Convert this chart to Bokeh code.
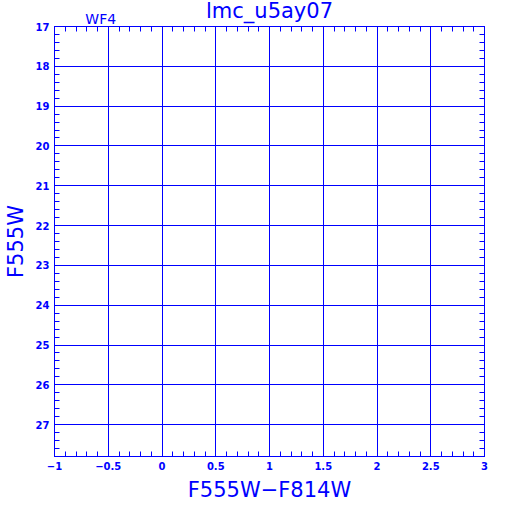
from bokeh.plotting import figure
from bokeh.models import Range1d, LinearAxis, SingleIntervalTicker, FixedTicker
from bokeh.embed import file_html
from bokeh.resources import INLINE

# Chart content
title_text = "lmc_u5ay07"
chip_text = "WF4"
chip_pos = -0.57               # x position (data) of the chip label above the frame
x_label = "F555W\u2212F814W"
y_label = "F555W"
x_limits = [-1, 3]
y_limits = [27.8, 17]          # magnitude axis, inverted
x_major_step = 0.5
y_major_step = 1
x_minor_count = 5
y_minor_count = 5

BLUE = "#0000ff"
FONT = "DejaVu Sans"

p = figure(frame_width=430, frame_height=430,
           x_range=Range1d(*x_limits), y_range=Range1d(*y_limits),
           output_backend="svg", toolbar_location=None,
           min_border_left=46, min_border_top=27,
           min_border_right=16, min_border_bottom=43,
           x_axis_location=None, y_axis_location=None,
           margin=(-5, 0, 0, 0))
p.background_fill_color = "white"
p.border_fill_color = "white"
p.outline_line_color = BLUE
p.outline_line_width = 1

def make_axis(interval, minors, show_labels, label=None):
    ax = LinearAxis(ticker=SingleIntervalTicker(interval=interval, num_minor_ticks=minors))
    ax.axis_line_color = BLUE
    ax.major_tick_line_color = BLUE
    ax.minor_tick_line_color = BLUE
    ax.major_tick_in = 5
    ax.major_tick_out = 0
    ax.minor_tick_in = 5
    ax.minor_tick_out = 0
    if show_labels:
        ax.major_label_text_color = BLUE
        ax.major_label_text_font = FONT
        ax.major_label_text_font_style = "bold"
        ax.major_label_text_font_size = "10px"
        ax.major_label_standoff = 5
    else:
        ax.major_label_text_font_size = "0px"
        ax.major_label_text_color = None
        ax.major_label_standoff = 0
    if label is not None:
        ax.axis_label = label
        ax.axis_label_text_color = BLUE
        ax.axis_label_text_font = FONT
        ax.axis_label_text_font_style = "normal"
        ax.axis_label_text_font_size = "21px"
        ax.axis_label_standoff = 5
    return ax

p.add_layout(make_axis(x_major_step, x_minor_count, True, x_label), "below")
p.add_layout(make_axis(y_major_step, y_minor_count, True, y_label), "left")
p.add_layout(make_axis(x_major_step, x_minor_count, False), "above")
p.add_layout(make_axis(y_major_step, y_minor_count, False), "right")

# top text axis: chip name as tick label, file name as axis label
txt = LinearAxis(ticker=FixedTicker(ticks=[chip_pos], minor_ticks=[]),
                 major_label_overrides={chip_pos: chip_text})
txt.axis_line_color = None
txt.major_tick_line_color = None
txt.minor_tick_line_color = None
txt.major_tick_in = 0
txt.major_tick_out = 0
txt.major_label_standoff = 0
txt.major_label_text_color = BLUE
txt.major_label_text_font = FONT
txt.major_label_text_font_size = "14px"
txt.axis_label = title_text
txt.axis_label_text_color = BLUE
txt.axis_label_text_font = FONT
txt.axis_label_text_font_style = "normal"
txt.axis_label_text_font_size = "21px"
txt.axis_label_standoff = -15
p.add_layout(txt, "above")

p.xgrid.ticker = SingleIntervalTicker(interval=x_major_step)
p.ygrid.ticker = SingleIntervalTicker(interval=y_major_step)
for g in (p.xgrid, p.ygrid):
    g.grid_line_color = BLUE
    g.grid_line_alpha = 1.0
    g.grid_line_width = 1

open("out.html", "w").write(file_html(p, INLINE))
